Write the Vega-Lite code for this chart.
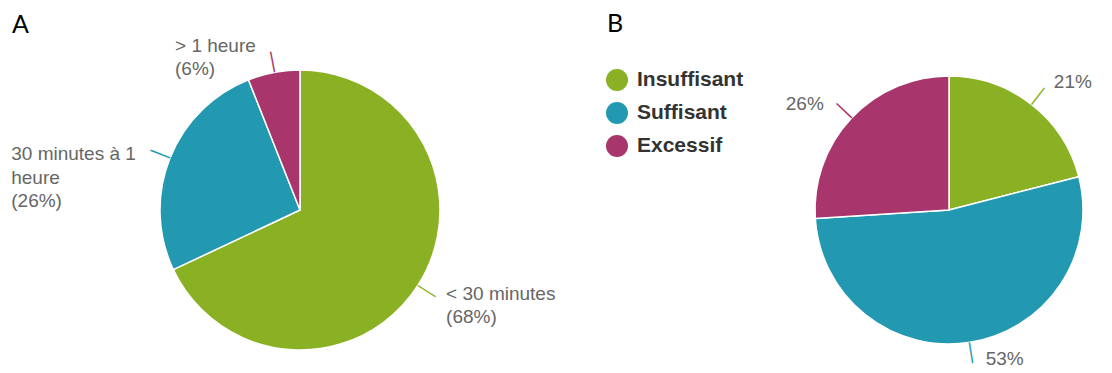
{
  "$schema": "https://vega.github.io/schema/vega-lite/v6.json",
  "padding": {"left": 0, "top": 12, "right": 0, "bottom": 0},
  "background": "white",
  "config": {"view": {"stroke": null}, "concat": {"spacing": -16}, "font": "Liberation Sans"},
  "resolve": {"scale": {"color": "independent", "theta": "independent"}, "legend": {"color": "independent"}},
  "hconcat": [
    {
      "title": {"text": "A", "anchor": "start", "fontSize": 25, "font": "Lato", "fontWeight": "normal", "color": "#000000", "offset": -1, "dx": 12},
      "width": 600,
      "height": 326,
      "data": {"values": [
        {"cat": "< 30 minutes", "label": ["< 30 minutes", "(68%)"], "value": 68, "order": 1},
        {"cat": "30 minutes à 1 heure", "label": ["30 minutes à 1", "heure", "(26%)"], "value": 26, "order": 2},
        {"cat": "> 1 heure", "label": ["> 1 heure", "(6%)"], "value": 6, "order": 3}
      ]},
      "transform": [{"stack": "value", "groupby": [], "sort": [{"field": "order", "order": "ascending"}], "as": ["s0", "s1"]}],
      "encoding": {
        "theta": {"field": "value", "type": "quantitative", "stack": true},
        "order": {"field": "order", "type": "quantitative", "sort": "ascending"},
        "color": {"field": "cat", "type": "nominal",
          "scale": {"domain": ["< 30 minutes", "30 minutes à 1 heure", "> 1 heure"], "range": ["#8ab023", "#2299b0", "#a8356c"]},
          "legend": null}
      },
      "layer": [
        {"mark": {"type": "arc", "outerRadius": 140, "stroke": "#ffffff", "strokeWidth": 1.5}},
        {"mark": {"type": "text", "text": "—", "radius": 150.5, "fontSize": 21, "align": "center", "baseline": "middle",
          "angle": {"expr": "(datum.s0 + datum.s1) * 1.8 - 90"}}},
        {"mark": {"type": "text", "radius": 160, "fontSize": 19, "lineHeight": 23.5, "align": "left", "baseline": "middle",
          "dx": {"expr": "datum.order == 1 ? 11 : datum.order == 2 ? -140 : -95"},
          "dy": {"expr": "datum.order == 1 ? -2 : datum.order == 2 ? 3 : -7"}},
         "encoding": {"text": {"field": "label", "type": "nominal"}, "color": {"value": "#666666"}}}
      ]
    },
    {
      "title": {"text": "B", "anchor": "start", "fontSize": 25, "font": "Lato", "fontWeight": "normal", "color": "#000000", "offset": 10, "dx": 23},
      "width": 328,
      "height": 326,
      "data": {"values": [
        {"cat": "Insuffisant", "label": "21%", "value": 21, "order": 1},
        {"cat": "Suffisant", "label": "53%", "value": 53, "order": 2},
        {"cat": "Excessif", "label": "26%", "value": 26, "order": 3}
      ]},
      "transform": [{"stack": "value", "groupby": [], "sort": [{"field": "order", "order": "ascending"}], "as": ["s0", "s1"]}],
      "encoding": {
        "theta": {"field": "value", "type": "quantitative", "stack": true},
        "order": {"field": "order", "type": "quantitative", "sort": "ascending"},
        "color": {"field": "cat", "type": "nominal",
          "scale": {"domain": ["Insuffisant", "Suffisant", "Excessif"], "range": ["#8ab023", "#2299b0", "#a8356c"]},
          "legend": {"orient": "left", "title": null, "symbolType": "circle", "symbolSize": 484, "symbolStrokeWidth": 0, "symbolOpacity": 1,
            "labelFont": "Liberation Sans", "labelFontWeight": "bold", "labelFontSize": 21, "labelColor": "#333333",
            "labelOffset": 9, "rowPadding": 11, "padding": 22, "offset": 19}}
      },
      "layer": [
        {"mark": {"type": "arc", "outerRadius": 134, "stroke": "#ffffff", "strokeWidth": 1.5}},
        {"mark": {"type": "text", "text": "—", "radius": 144.5, "fontSize": 21, "align": "center", "baseline": "middle",
          "angle": {"expr": "(datum.s0 + datum.s1) * 1.8 - 90"}}},
        {"mark": {"type": "text", "radius": 158, "fontSize": 19, "baseline": "middle",
          "align": {"expr": "datum.order == 3 ? 'right' : 'left'"},
          "dx": {"expr": "datum.order == 1 ? 8 : datum.order == 2 ? 12 : -10"},
          "dy": {"expr": "datum.order == 1 ? -3 : datum.order == 2 ? -7 : 2"}},
         "encoding": {"text": {"field": "label", "type": "nominal"}, "color": {"value": "#666666"}}}
      ]
    }
  ]
}
